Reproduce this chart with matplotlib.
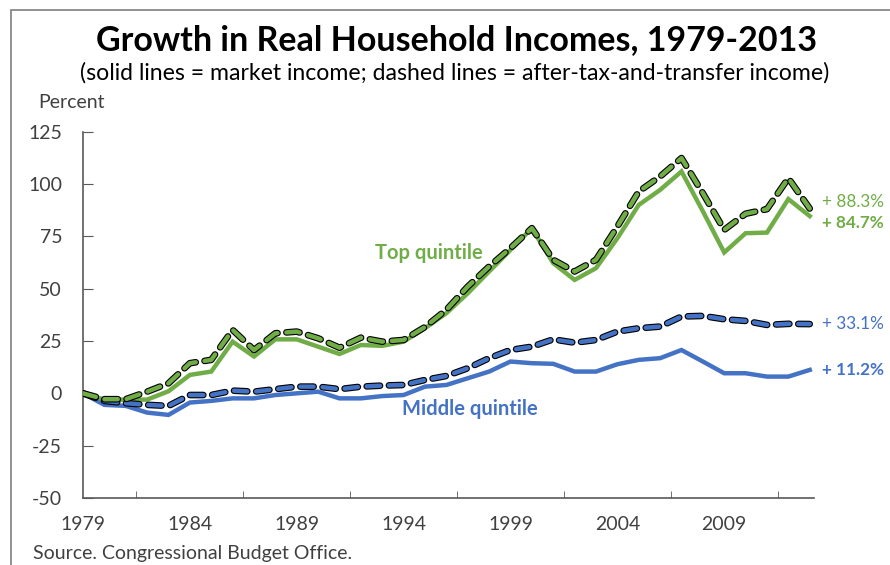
import matplotlib
matplotlib.use("Agg")
import matplotlib.pyplot as plt
import matplotlib.patheffects as pe
from matplotlib.patches import Rectangle

plt.rcParams["font.family"] = ["Lato", "DejaVu Sans"]

years = list(range(1979, 2014))

# percent growth since 1979
top_market = [0, -3, -3, -3, 1, 8.8, 10.4, 24.7, 17.6, 25.8, 25.8, 22.3, 18.8, 23.1, 22.7,
              24.7, 31.1, 38.3, 47.8, 58.2, 68.5, 78.9, 62.2, 54.2, 59.8, 74.1, 90, 97.2,
              106, 87, 67.3, 76.5, 76.8, 92.8, 84.7]
top_after_tax = [0, -2.8, -2.8, 0.8, 4.8, 14.4, 16, 30.3, 20.7, 28.7, 29.5, 26.3, 21.8, 26.6, 24.7,
                 25.5, 31.7, 39.9, 51, 60.6, 69.4, 78.9, 63.8, 58.2, 63.8, 79.7, 96.4, 103.6,
                 112.4, 95.6, 78.1, 85.8, 88, 102.8, 88.3]
mid_market = [0, -5.5, -6, -9.2, -10.3, -4.4, -3.6, -2.4, -2.4, -0.8, 0, 0.8, -2.4, -2.4, -1.3,
              -0.8, 3.2, 4, 7.2, 10.4, 15.2, 14.4, 14.1, 10.4, 10.4, 13.9, 16, 16.8,
              20.7, 15.2, 9.6, 9.6, 8, 8, 11.2]
mid_after_tax = [0, -3.6, -4.7, -5.5, -6, -0.8, -0.8, 1.3, 0.8, 2, 3.2, 3.2, 2, 3.2, 3.7,
                 4, 6.4, 8.3, 12, 16.8, 20.7, 22.3, 25.8, 24.2, 25.5, 29.5, 31.1, 31.9,
                 36.7, 37, 35.4, 34.6, 32.7, 33.2, 33.1]

label_years = [1979, 1984, 1989, 1994, 1999, 2004, 2009]
y_ticks = [-50, -25, 0, 25, 50, 75, 100, 125]

green = "#70AD47"
blue = "#4472C4"
text_col = "#404040"

fig = plt.figure(figsize=(8.9, 5.65), dpi=100)
ax = fig.add_axes([83 / 890, 1 - 498 / 565, (814 - 83) / 890, (498 - 131.7) / 565])

ax.plot(years, mid_market, color=blue, lw=3.2, solid_joinstyle="miter", zorder=3)
ax.plot(years, top_market, color=green, lw=3.2, solid_joinstyle="miter", zorder=3)
outline = [pe.Stroke(linewidth=4.8, foreground="black"), pe.Normal()]
for series, col in [(mid_after_tax, blue), (top_after_tax, green)]:
    ax.plot(years, series, color=col, lw=3.2, dashes=(3.0, 2.0), dash_capstyle="round",
            path_effects=outline, zorder=4)

ax.set_xlim(1979, 2013.2)
ax.set_ylim(-50, 125)
ax.set_yticks(y_ticks)
ax.set_yticklabels([str(v) for v in y_ticks])
ax.set_xticks(label_years)
ax.set_xticklabels([str(v) for v in label_years])
ax.set_xticks([1979 + 2.5 * k for k in range(1, 14)], minor=True)
ax.tick_params(axis="x", which="major", length=0, pad=13, labelsize=14, labelcolor=text_col)
ax.tick_params(axis="x", which="minor", direction="in", length=5, color="#595959")
ax.tick_params(axis="y", direction="in", length=7, color="#595959", pad=15,
               labelsize=14, labelcolor=text_col)
for s in ["top", "right"]:
    ax.spines[s].set_visible(False)
for s in ["left", "bottom"]:
    ax.spines[s].set_color("#595959")
    ax.spines[s].set_linewidth(1.2)

# end labels
ax.annotate("+ 88.3%", (2013, top_after_tax[-1]), xytext=(9, 5), textcoords="offset points",
            color=green, fontsize=12.3, va="center")
ax.annotate("+ 84.7%", (2013, top_market[-1]), xytext=(9, -5), textcoords="offset points",
            color=green, fontsize=12.3, fontweight="bold", va="center")
ax.annotate("+ 33.1%", (2013, mid_after_tax[-1]), xytext=(9, 0), textcoords="offset points",
            color=blue, fontsize=12.3, va="center")
ax.annotate("+ 11.2%", (2013, mid_market[-1]), xytext=(9, 0), textcoords="offset points",
            color=blue, fontsize=12.3, fontweight="bold", va="center")
ax.text(1995.2, 67, "Top quintile", color=green, fontsize=14.5, fontweight="bold",
        ha="center", va="center")
ax.text(1997.1, -7.5, "Middle quintile", color=blue, fontsize=14.5, fontweight="bold",
        ha="center", va="center")

fig.text(457 / 890, 1 - 40 / 565, "Growth in Real Household Incomes, 1979-2013",
         ha="center", va="center", fontsize=24.5, fontweight="bold", color="black")
fig.text(455 / 890, 1 - 73 / 565,
         "(solid lines = market income; dashed lines = after-tax-and-transfer income)",
         ha="center", va="center", fontsize=16.6, color="black")
fig.text(38 / 890, 1 - 103 / 565, "Percent", ha="left", va="center", fontsize=14,
         color=text_col)
fig.text(33 / 890, 1 - 554 / 565, "Source. Congressional Budget Office.", ha="left",
         va="center", fontsize=14, color=text_col)

fig.patches.append(Rectangle((11 / 890, -0.1), 1.2, 1.1 - 10 / 565, transform=fig.transFigure,
                             fill=False, edgecolor="#7F7F7F", lw=1.2))

fig.savefig("out.png", dpi=100)
